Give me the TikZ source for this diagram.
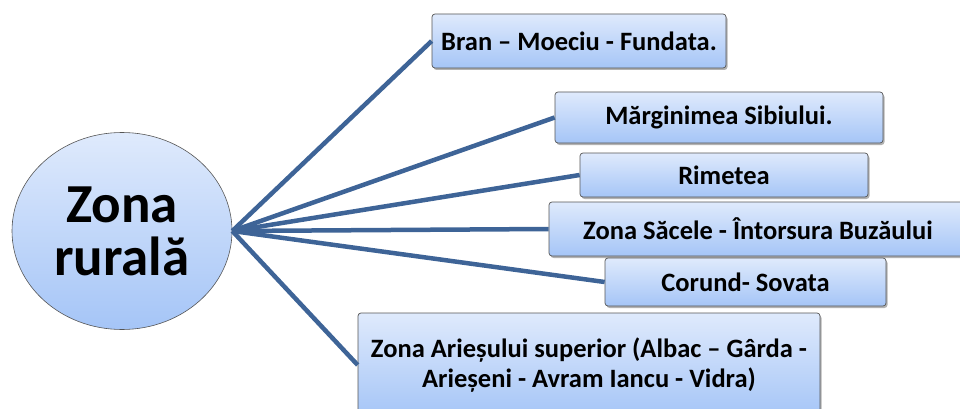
\documentclass[tikz,border=0pt]{standalone}
\usepackage{fontspec}
\setmainfont{Carlito}
\usepackage{xcolor}
\usepackage{tikz}
\usetikzlibrary{shapes.geometric}
\usetikzlibrary{shadows}

\definecolor{spokeblue}{RGB}{62,100,151}
\definecolor{filltop}{RGB}{223,234,252}
\definecolor{fillbottom}{RGB}{165,197,247}
\definecolor{rimgray}{RGB}{85,85,85}

\begin{document}
\begin{tikzpicture}
    [x=1pt, y=-1pt,
      % Stil fuer den Kreis
      hubzone/.style={ellipse, draw=rimgray, line width=0.6pt, top color=filltop, bottom color=fillbottom,
        minimum width=220pt, minimum height=197pt, inner sep=0pt, align=center,
        font=\bfseries\fontsize{55}{53}\selectfont},
      % Stil fuer die Kaestchen
      place/.style={rectangle, rounded corners=3pt, draw=rimgray, line width=0.7pt,
        top color=filltop, bottom color=fillbottom, inner sep=0pt, align=center,
        drop shadow={shadow xshift=1.5pt, shadow yshift=-2pt, opacity=0.3, fill=black},
        font=\bfseries\fontsize{26.5}{30}\selectfont},
      % Stil fuer die Linien
      spoke/.style={draw=spokeblue, line width=4.5pt}]
    \useasboundingbox (0,0) rectangle (960,409);
    % Knoten
    \node[hubzone] (zona) at (122,231) {Zona\\rurală};
    \coordinate (hub) at (zona.east);

    \node[place, minimum width=294pt, minimum height=54pt] (bran) at (579,41) {Bran – Moeciu - Fundata.};
    \node[place, minimum width=328pt, minimum height=51pt] (marginimea) at (719,117.5) {Mărginimea Sibiului.};
    \node[place, minimum width=288pt, minimum height=44pt] (rimetea) at (724,175) {Rimetea};
    \node[place, minimum width=418pt, minimum height=54pt] (sacele) at (758,229) {Zona Săcele - Întorsura Buzăului};
    \node[place, minimum width=281pt, minimum height=48pt] (corund) at (745.5,282) {Corund- Sovata};
    \node[place, minimum width=462pt, minimum height=104pt] (ariesului) at (589,365) {Zona Arieșului superior (Albac – Gârda -\\Arieșeni - Avram Iancu - Vidra)};

    \path[spoke]
      (hub) edge (bran.west)
      (hub) edge (marginimea.west)
      (hub) edge (rimetea.west)
      (hub) edge (sacele.west)
      (hub) edge (corund.west)
      (hub) edge (ariesului.west);
  \end{tikzpicture}
\end{document}
